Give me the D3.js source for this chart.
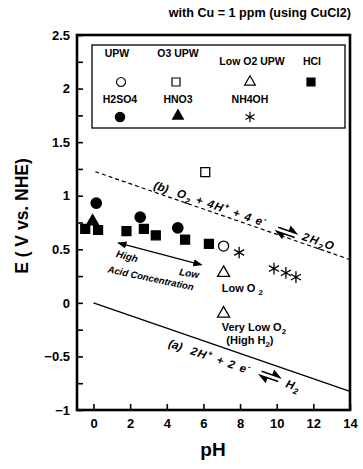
<!DOCTYPE html>
<html>
<head>
<meta charset="utf-8">
<script src="https://cdn.jsdelivr.net/npm/d3@7"></script>
<style>
    body { margin: 0; background: #fff; }
    text { font-family: "Liberation Sans", Arial, sans-serif; font-weight: bold; fill: #000; }
</style>
</head>
<body>
<div id="my_dataviz"></div>
<script>
// values (pH, E in V vs NHE)
var upwPH = [7.1];
var upwE = [0.53];
var o3PH = [6.1];
var o3E = [1.22];
var lowO2PH = [7.1, 7.1];
var lowO2E = [0.28, -0.1];
var hclPH = [-0.45, 0.25, 1.8, 2.75, 3.4, 5.0, 6.3];
var hclE = [0.69, 0.68, 0.67, 0.69, 0.63, 0.59, 0.55];
var h2so4PH = [0.15, 2.55, 4.6];
var h2so4E = [0.93, 0.8, 0.7];
var hno3PH = [-0.05];
var hno3E = [0.76];
var nh4ohPH = [7.95, 9.85, 10.5, 11.05];
var nh4ohE = [0.47, 0.32, 0.28, 0.24];

// equilibrium lines (a) H2 and (b) O2
var lineA = [[0, 0], [14, -0.826]];
var lineB = [[0.1, 1.224], [14, 0.404]];

var xTicks = [0, 2, 4, 6, 8, 10, 12, 14];
var yTicks = [-1, -0.5, 0, 0.5, 1, 1.5, 2, 2.5];
var yMinor = [-0.75, -0.25, 0.25, 0.75, 1.25, 1.75, 2.25];

var series = [
    { name: "UPW", ph: upwPH, e: upwE, sym: d3.symbolCircle, size: 80, fill: "#fff" },
    { name: "O3 UPW", ph: o3PH, e: o3E, sym: d3.symbolSquare, size: 80, fill: "#fff" },
    { name: "Low O2 UPW", ph: lowO2PH, e: lowO2E, sym: d3.symbolTriangle, size: 62, fill: "#fff" },
    { name: "HCl", ph: hclPH, e: hclE, sym: d3.symbolSquare, size: 80, fill: "#000" },
    { name: "H2SO4", ph: h2so4PH, e: h2so4E, sym: d3.symbolCircle, size: 85, fill: "#000" },
    { name: "HNO3", ph: hno3PH, e: hno3E, sym: d3.symbolTriangle, size: 62, fill: "#000" },
    { name: "NH4OH", ph: nh4ohPH, e: nh4ohE, sym: d3.symbolAsterisk, size: 95, fill: "none" }
];

var W = 363, H = 469;
var plot = { left: 77, right: 350, top: 35, bottom: 410 };

var svg = d3.select("#my_dataviz")
    .append("svg")
    .attr("width", W)
    .attr("height", H);

var x = d3.scaleLinear()
    .domain([-0.9, 14])
    .range([plot.left, plot.right]);

var y = d3.scaleLinear()
    .domain([-1, 2.5])
    .range([plot.bottom, plot.top]);

// title
svg.append("text")
    .attr("x", 351)
    .attr("y", 17)
    .attr("text-anchor", "end")
    .style("font-size", "12.6px")
    .text("with Cu = 1 ppm (using CuCl2)");

// axes, ticks pointing inward
var xAxis = svg.append("g")
    .attr("transform", "translate(0," + plot.bottom + ")")
    .call(d3.axisBottom(x).tickValues(xTicks).tickSize(-6).tickPadding(9).tickFormat(d3.format("~g")));

var yAxis = svg.append("g")
    .attr("transform", "translate(" + plot.left + ",0)")
    .call(d3.axisLeft(y).tickValues(yTicks).tickSize(-6).tickPadding(7).tickFormat(d3.format("~g")));

var yAxisMinor = svg.append("g")
    .attr("transform", "translate(" + plot.left + ",0)")
    .call(d3.axisLeft(y).tickValues(yMinor).tickSize(-6).tickFormat(""));

svg.selectAll(".domain").remove();
svg.selectAll(".tick line").attr("stroke", "#000").attr("stroke-width", 1.6);
svg.selectAll(".tick text")
    .style("font-size", "13px")
    .style("font-family", "'Liberation Sans', Arial, sans-serif")
    .style("font-weight", "bold");

// frame
svg.append("rect")
    .attr("x", plot.left)
    .attr("y", plot.top)
    .attr("width", plot.right - plot.left)
    .attr("height", plot.bottom - plot.top)
    .attr("fill", "none")
    .attr("stroke", "#000")
    .attr("stroke-width", 2.6);

// axis titles
svg.append("text")
    .attr("transform", "translate(28,216) rotate(-90)")
    .attr("text-anchor", "middle")
    .style("font-size", "17.5px")
    .text("E ( V vs. NHE)");

svg.append("text")
    .attr("x", 213)
    .attr("y", 456)
    .attr("text-anchor", "middle")
    .style("font-size", "19px")
    .text("pH");

// reaction lines
var line = d3.line()
    .x(function (d) { return x(d[0]) })
    .y(function (d) { return y(d[1]) });

svg.append("path")
    .datum(lineA)
    .attr("fill", "none")
    .attr("stroke", "#000")
    .attr("stroke-width", 1.3)
    .attr("d", line);

svg.append("path")
    .datum(lineB)
    .attr("fill", "none")
    .attr("stroke", "#000")
    .attr("stroke-width", 1.2)
    .attr("stroke-dasharray", "4,3")
    .attr("d", line);

// position on a line, pushed 'off' px along its normal (positive = below)
function onLine(ln, ph, off) {
    var x0 = x(ln[0][0]), y0 = y(ln[0][1]), x1 = x(ln[1][0]), y1 = y(ln[1][1]);
    var ang = Math.atan2(y1 - y0, x1 - x0);
    var e = ln[0][1] + (ln[1][1] - ln[0][1]) * (ph - ln[0][0]) / (ln[1][0] - ln[0][0]);
    var px = x(ph) - off * Math.sin(ang);
    var py = y(e) + off * Math.cos(ang);
    return "translate(" + px + "," + py + ") rotate(" + (ang * 180 / Math.PI) + ")";
}

// "_x" -> subscript x, "^x" -> superscript x
function rich(t, str, fs) {
    var cur = 0;
    str.split(/([_^].)/).forEach(function (p) {
        if (!p) return;
        var ts = t.append("tspan");
        var want = 0;
        if (p[0] === "_") { want = fs * 0.3; p = p[1]; ts.style("font-size", (fs * 0.72) + "px"); }
        else if (p[0] === "^") { want = -fs * 0.4; p = p[1]; ts.style("font-size", (fs * 0.72) + "px"); }
        ts.attr("dy", want - cur).text(p);
        cur = want;
    });
}

function harpoons(g) {
    // forward/backward half arrows
    g.append("path")
        .attr("d", "M0,-2.2 L19,-2.2 L12,-6.5 L12,-2.2")
        .attr("stroke", "#000").attr("stroke-width", 1.5).attr("fill", "#000");
    g.append("path")
        .attr("d", "M19,2.2 L0,2.2 L7,6.5 L7,2.2")
        .attr("stroke", "#000").attr("stroke-width", 1.5).attr("fill", "#000");
}

function note(tf, str, fs, ls) {
    var t = svg.append("text")
        .attr("transform", tf)
        .style("font-size", fs + "px")
        .style("font-style", "italic")
        .attr("letter-spacing", ls || 0);
    rich(t, str, fs);
    return t;
}

// (b) label above the dashed line
note(onLine(lineB, 3.2, -3), "(b)", 11.5);
note(onLine(lineB, 4.45, -3), "O_2 + 4H^+ + 4 e^-", 11.5, 1.1);
harpoons(svg.append("g").attr("transform", onLine(lineB, 9.95, -5)));
note(onLine(lineB, 11.3, -3), "2H_2O", 11.5, 1.4);

// (a) label below the solid line
note(onLine(lineA, 4.35, 17), "(a)", 11.5);
note(onLine(lineA, 5.55, 17), "2H^+ + 2 e^-", 11.5, 1.2);
harpoons(svg.append("g").attr("transform", onLine(lineA, 9.35, 12)));
note(onLine(lineA, 10.75, 17), "H_2", 11.5, 1);

// acid concentration arrow
var defs = svg.append("defs");
defs.append("marker")
    .attr("id", "head")
    .attr("viewBox", "0 0 10 10")
    .attr("refX", 9).attr("refY", 5)
    .attr("markerWidth", 7).attr("markerHeight", 7)
    .attr("orient", "auto-start-reverse")
    .append("path").attr("d", "M0,1 L10,5 L0,9 Z").attr("fill", "#000");

svg.append("line")
    .attr("x1", x(1.35)).attr("y1", y(0.56))
    .attr("x2", x(5.9)).attr("y2", y(0.355))
    .attr("stroke", "#000").attr("stroke-width", 1.3)
    .attr("marker-start", "url(#head)")
    .attr("marker-end", "url(#head)");

note("translate(" + x(1.2) + "," + y(0.43) + ") rotate(15)", "High", 10);
note("translate(" + x(4.65) + "," + y(0.26) + ") rotate(10)", "Low", 10);
note("translate(" + x(0.75) + "," + y(0.285) + ") rotate(12)", "Acid Concentration", 9.5);

// condition notes
var cond = svg.append("text").attr("x", x(7.0)).attr("y", y(0.1)).style("font-size", "11px");
rich(cond, "Low O _2", 11);
cond = svg.append("text").attr("x", x(7.0)).attr("y", y(-0.26)).style("font-size", "11px");
rich(cond, "Very Low O_2", 11);
cond = svg.append("text").attr("x", x(7.25)).attr("y", y(-0.385)).style("font-size", "11px");
rich(cond, "(High H_2)", 11);

// data points
series.forEach(function (s) {
    var pts = s.ph.map(function (p, i) { return [p, s.e[i]] });
    svg.append("g")
        .selectAll("path")
        .data(pts)
        .enter()
        .append("path")
        .attr("transform", function (d) { return "translate(" + x(d[0]) + "," + y(d[1]) + ")" })
        .attr("d", d3.symbol().type(s.sym).size(s.size))
        .attr("fill", s.fill)
        .attr("stroke", "#000")
        .attr("stroke-width", 1.3);
});

// legend
var legPos = [
    { lx: 117, ly: 57, sx: 121, sy: 82 },
    { lx: 178, ly: 57, sx: 176, sy: 82 },
    { lx: 252, ly: 65, sx: 250, sy: 82 },
    { lx: 312, ly: 65, sx: 311, sy: 82 },
    { lx: 120, ly: 103, sx: 120, sy: 117 },
    { lx: 178, ly: 103, sx: 178, sy: 116 },
    { lx: 250, ly: 103, sx: 250, sy: 117 }
];

svg.append("rect")
    .attr("x", 92).attr("y", 45)
    .attr("width", 253).attr("height", 83)
    .attr("fill", "#fff")
    .attr("stroke", "#000")
    .attr("stroke-width", 1.3);

var leg = svg.append("g")
    .selectAll("g")
    .data(series)
    .enter()
    .append("g");

leg.append("text")
    .attr("x", function (d, i) { return legPos[i].lx })
    .attr("y", function (d, i) { return legPos[i].ly })
    .attr("text-anchor", "middle")
    .style("font-size", "10.5px")
    .text(function (d) { return d.name });

leg.append("path")
    .attr("transform", function (d, i) { return "translate(" + legPos[i].sx + "," + legPos[i].sy + ")" })
    .attr("d", function (d) { return d3.symbol().type(d.sym).size(d.size * 0.8)() })
    .attr("fill", function (d) { return d.fill })
    .attr("stroke", "#000")
    .attr("stroke-width", 1.2);
</script>
</body>
</html>
